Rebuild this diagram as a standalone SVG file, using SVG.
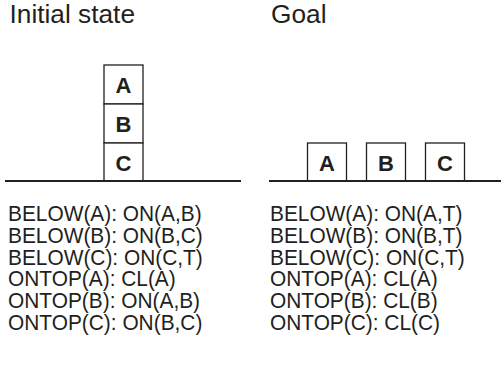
<svg xmlns="http://www.w3.org/2000/svg" width="501" height="367" viewBox="0 0 501 367">
<style>
.t{font-family:"Liberation Sans",Arial,sans-serif;fill:#231f20}
.title{font-size:25px}
.lbl{font-size:22px;font-weight:bold;text-anchor:middle}
.rule{font-size:21.3px}
.box{fill:#fff;stroke:#231f20;stroke-width:1.3}
.ground{stroke:#231f20;stroke-width:2.2}
</style>
<rect width="501" height="367" fill="#fff"/>
<text class="t title" x="9.5" y="23" textLength="125.5" lengthAdjust="spacingAndGlyphs">Initial state</text>
<text class="t title" x="271" y="23" textLength="55.5" lengthAdjust="spacingAndGlyphs">Goal</text>
<g id="initial-stack">
  <g id="init-A"><rect class="box" x="104" y="65" width="39" height="39"/><text class="t lbl" x="123.5" y="92.5">A</text></g>
  <g id="init-B"><rect class="box" x="104" y="104" width="39" height="39"/><text class="t lbl" x="123.5" y="131.5">B</text></g>
  <g id="init-C"><rect class="box" x="104" y="143" width="39" height="38"/><text class="t lbl" x="123.5" y="170.5">C</text></g>
</g>
<g id="goal-blocks">
  <g id="goal-A"><rect class="box" x="307.5" y="143" width="39" height="38"/><text class="t lbl" x="327" y="170.5">A</text></g>
  <g id="goal-B"><rect class="box" x="366.5" y="143" width="39" height="38"/><text class="t lbl" x="386" y="170.5">B</text></g>
  <g id="goal-C"><rect class="box" x="425.5" y="143" width="39" height="38"/><text class="t lbl" x="445" y="170.5">C</text></g>
</g>
<g id="connectors">
  <line class="ground" x1="5" y1="181" x2="241" y2="181"/>
  <line class="ground" x1="269" y1="181" x2="501" y2="181"/>
</g>
<g id="initial-rules" class="t rule" transform="scale(0.98 1)">
  <text x="8.2" y="221">BELOW(A): ON(A,B)</text>
  <text x="8.2" y="242.8">BELOW(B): ON(B,C)</text>
  <text x="8.2" y="264.6">BELOW(C): ON(C,T)</text>
  <text x="8.2" y="286.4">ONTOP(A): CL(A)</text>
  <text x="8.2" y="308.2">ONTOP(B): ON(A,B)</text>
  <text x="8.2" y="330">ONTOP(C): ON(B,C)</text>
</g>
<g id="goal-rules" class="t rule" transform="scale(0.98 1)">
  <text x="275.5" y="221">BELOW(A): ON(A,T)</text>
  <text x="275.5" y="242.8">BELOW(B): ON(B,T)</text>
  <text x="275.5" y="264.6">BELOW(C): ON(C,T)</text>
  <text x="275.5" y="286.4">ONTOP(A): CL(A)</text>
  <text x="275.5" y="308.2">ONTOP(B): CL(B)</text>
  <text x="275.5" y="330">ONTOP(C): CL(C)</text>
</g>
</svg>
